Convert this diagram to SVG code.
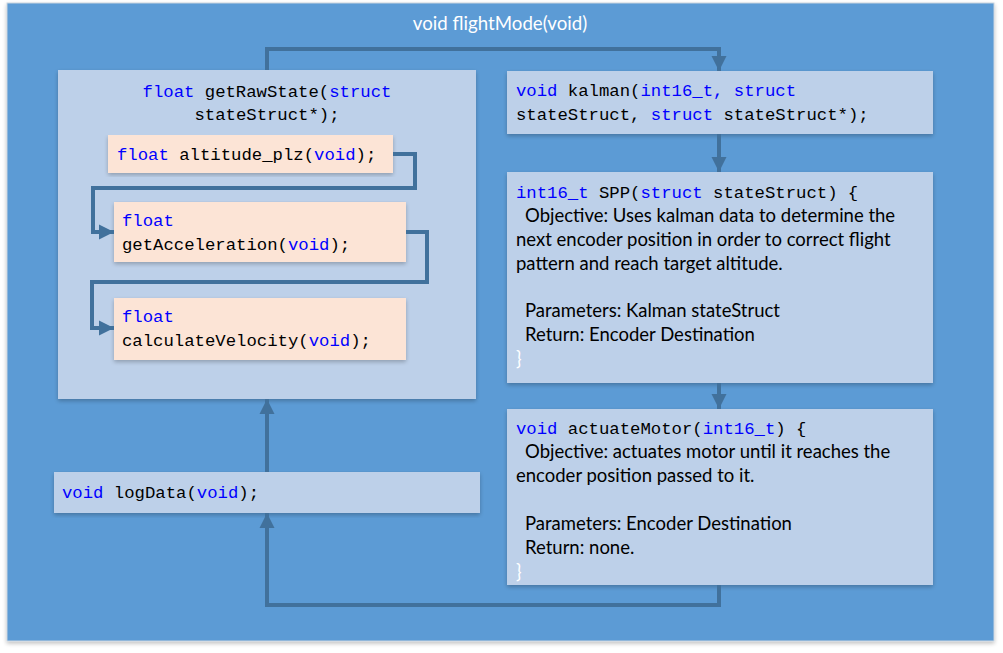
<svg xmlns="http://www.w3.org/2000/svg" width="1003" height="653" viewBox="0 0 1003 653">
<style>
.mono{font-family:"Liberation Mono","DejaVu Sans Mono",monospace;font-size:17.3px;fill:#000}
.kw{fill:#0000FF}
.sans{font-family:"Lato","Liberation Sans",sans-serif;font-size:18.5px;fill:#000}
.title{font-family:"Lato","Liberation Sans",sans-serif;font-size:18.7px;fill:#FFFFFF}
.box{fill:#BDD0E9}
.inner{fill:#FCE4D6}
.conn{fill:none;stroke:#41719C;stroke-width:4;stroke-linejoin:miter}
</style>
<defs>
<marker id="arr" viewBox="0 0 10 10" refX="10" refY="5" markerWidth="3.8" markerHeight="4.2" markerUnits="strokeWidth" orient="auto">
<path d="M0,0 L10,5 L0,10 Z" fill="#41719C"/>
</marker>
<filter id="sh" x="-5%" y="-5%" width="110%" height="115%">
<feGaussianBlur in="SourceAlpha" stdDeviation="2"/>
<feOffset dy="2"/>
<feComponentTransfer><feFuncA type="linear" slope="0.25"/></feComponentTransfer>
<feMerge><feMergeNode/><feMergeNode in="SourceGraphic"/></feMerge>
</filter>
</defs>
<rect width="1003" height="653" fill="#FFFFFF"/>
<g id="flightMode">
<rect x="7" y="3" width="987" height="638" fill="#5B9BD5" stroke="#C9D3DE" stroke-width="1" filter="url(#sh)"/>
<text class="title" x="500" y="30" text-anchor="middle">void flightMode(void)</text>
</g>
<g id="getRawState">
<rect class="box" x="58" y="70" width="418" height="329" filter="url(#sh)"/>
<text class="mono" x="267" y="97" text-anchor="middle"><tspan class="kw">float</tspan> getRawState(<tspan class="kw">struct</tspan></text>
<text class="mono" x="267" y="120" text-anchor="middle">stateStruct*);</text>
</g>
<g id="altitude_plz">
<rect class="inner" x="108" y="135" width="285" height="38" filter="url(#sh)"/>
<text class="mono" x="117" y="160"><tspan class="kw">float</tspan> altitude_plz(<tspan class="kw">void</tspan>);</text>
</g>
<g id="getAcceleration">
<rect class="inner" x="114" y="202" width="292" height="60" filter="url(#sh)"/>
<text class="mono" x="122" y="226"><tspan class="kw">float</tspan></text>
<text class="mono" x="122" y="250">getAcceleration(<tspan class="kw">void</tspan>);</text>
</g>
<g id="calculateVelocity">
<rect class="inner" x="114" y="298" width="292" height="62" filter="url(#sh)"/>
<text class="mono" x="122" y="322"><tspan class="kw">float</tspan></text>
<text class="mono" x="122" y="346">calculateVelocity(<tspan class="kw">void</tspan>);</text>
</g>
<g id="kalman">
<rect class="box" x="507" y="71" width="426" height="63" filter="url(#sh)"/>
<text class="mono" x="516" y="96"><tspan class="kw">void</tspan> kalman(<tspan class="kw">int16_t, struct</tspan></text>
<text class="mono" x="516" y="120">stateStruct, <tspan class="kw">struct</tspan> stateStruct*);</text>
</g>
<g id="SPP">
<rect class="box" x="507" y="172" width="426" height="211" filter="url(#sh)"/>
<text class="mono" x="516" y="198"><tspan class="kw">int16_t</tspan> SPP(<tspan class="kw">struct</tspan> stateStruct) {</text>
<text class="sans" x="525" y="222">Objective: Uses kalman data to determine the</text>
<text class="sans" x="516" y="246">next encoder position in order to correct flight</text>
<text class="sans" x="516" y="270">pattern and reach target altitude.</text>
<text class="sans" x="525" y="317">Parameters: Kalman stateStruct</text>
<text class="sans" x="525" y="341">Return: Encoder Destination</text>
<text class="sans" x="516" y="365" style="fill:#FFFFFF">}</text>
</g>
<g id="actuateMotor">
<rect class="box" x="507" y="409" width="426" height="176" filter="url(#sh)"/>
<text class="mono" x="516" y="434"><tspan class="kw">void</tspan> actuateMotor(<tspan class="kw">int16_t</tspan>) {</text>
<text class="sans" x="525" y="458">Objective: actuates motor until it reaches the</text>
<text class="sans" x="516" y="482">encoder position passed to it.</text>
<text class="sans" x="525" y="530">Parameters: Encoder Destination</text>
<text class="sans" x="525" y="554">Return: none.</text>
<text class="sans" x="516" y="578" style="fill:#FFFFFF">}</text>
</g>
<g id="logData">
<rect class="box" x="54" y="472" width="426" height="41" filter="url(#sh)"/>
<text class="mono" x="62" y="498"><tspan class="kw">void</tspan> logData(<tspan class="kw">void</tspan>);</text>
</g>
<g id="connectors">
<path class="conn" d="M267,70 V49 H719 V71" marker-end="url(#arr)"/>
<path class="conn" d="M719,134 V172" marker-end="url(#arr)"/>
<path class="conn" d="M719,383 V409" marker-end="url(#arr)"/>
<path class="conn" d="M719,585 V605 H267 V513" marker-end="url(#arr)"/>
<path class="conn" d="M267,472 V399" marker-end="url(#arr)"/>
<path class="conn" d="M393,154 H415 V188 H93 V232 H114" marker-end="url(#arr)"/>
<path class="conn" d="M406,232 H427 V282 H92 V328 H114" marker-end="url(#arr)"/>
</g>
</svg>
